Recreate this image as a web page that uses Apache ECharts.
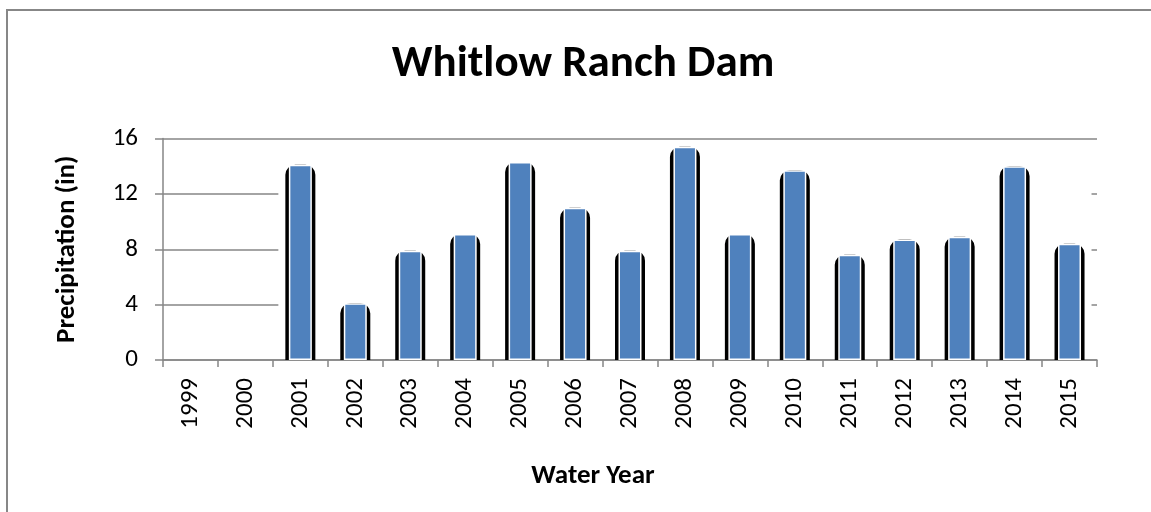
<!DOCTYPE html>
<html>
<head>
<meta charset="utf-8">
<script src="https://cdn.jsdelivr.net/npm/echarts@6/dist/echarts.min.js"></script>
<style>
  html, body { margin: 0; padding: 0; background: #fff; }
  #chart { width: 1151px; height: 512px; }
  #frame { position: absolute; left: 6px; top: 9px; width: 1200px; height: 600px;
           border-left: 2px solid #878787; border-top: 2px solid #878787; pointer-events: none; }
</style>
</head>
<body>
<div id="chart"></div>
<div id="frame"></div>
<script>
const years = ['1999','2000','2001','2002','2003','2004','2005','2006','2007','2008','2009','2010','2011','2012','2013','2014','2015'];
const precipitation = [0, 0, 14.1, 4.1, 7.9, 9.1, 14.3, 11.0, 7.9, 15.4, 9.1, 13.7, 7.6, 8.7, 8.9, 14.0, 8.4];
const yTicks = [0, 4, 8, 12, 16];

const FONT = 'Calibri, Carlito, Lato, sans-serif';
const GRAY = '#868686';
const TICK_STYLE = { fontFamily: FONT, fontSize: 25, color: '#000' };

// zero years draw no mark (no border either)
const barData = precipitation.map(v => v === 0 ? { value: v, itemStyle: { borderWidth: 0, opacity: 0 } } : v);

const chart = echarts.init(document.getElementById('chart'));
const option = {
  animation: false,
  backgroundColor: '#fff',
  textStyle: { fontFamily: FONT },
  title: [
    { text: 'Whitlow Ranch Dam', left: 578, top: 37, textAlign: 'center',
      textStyle: { fontFamily: FONT, fontWeight: 'bold', fontSize: 45, color: '#000' } },
    { text: 'Water Year', left: 588, top: 458, textAlign: 'center',
      textStyle: { fontFamily: FONT, fontWeight: 'bold', fontSize: 27, color: '#000' } }
  ],
  grid: { left: 163, right: 54, top: 138.5, bottom: 152, containLabel: false },
  xAxis: [
    {
      type: 'category', data: years,
      axisLine: { lineStyle: { color: GRAY, width: 1.5 } },
      axisTick: { show: true, length: 7, lineStyle: { color: GRAY, width: 1.5 } },
      axisLabel: {
        rotate: 90, margin: 18, fontFamily: FONT, fontSize: 25, color: '#000',
        formatter: v => '{t|' + v + '}', rich: { t: TICK_STYLE }
      }
    },
    {
      type: 'category', data: years, position: 'bottom',
      axisLine: { show: false }, axisTick: { show: false }, axisLabel: { show: false }
    }
  ],
  yAxis: {
    type: 'value', min: yTicks[0], max: yTicks[yTicks.length - 1], interval: 4,
    name: 'Precipitation (in)', nameLocation: 'middle', nameGap: 82, nameRotate: 90,
    nameTextStyle: { fontFamily: FONT, fontWeight: 'bold', fontSize: 27, color: '#000' },
    axisLine: { show: true, lineStyle: { color: GRAY, width: 1.5 } },
    axisTick: { show: true, length: 8, lineStyle: { color: GRAY, width: 1.5 } },
    axisLabel: {
      margin: 25, fontFamily: FONT, fontSize: 25, color: '#000',
      formatter: v => '{t|' + v + '}', rich: { t: TICK_STYLE }
    },
    splitLine: { show: true, lineStyle: { color: GRAY, width: 1.5 } }
  },
  series: [
    {
      type: 'bar', xAxisIndex: 1, data: barData, barWidth: 30, clip: true, z: 3,
      itemStyle: { color: '#000', borderColor: '#000', borderWidth: 8, borderRadius: [6, 6, 0, 0] },
      emphasis: { disabled: true }
    },
    {
      type: 'bar', xAxisIndex: 0, data: barData, barWidth: 23, clip: true, z: 4,
      itemStyle: { color: '#4F81BD', borderColor: '#fff', borderWidth: 1.5 },
      emphasis: { disabled: true }
    }
  ]
};
chart.setOption(option);

// white mask hiding the inner gridlines behind the bar block (as in the reference)
const nz = precipitation.map((v, i) => v > 0 ? i : -1).filter(i => i >= 0);
const xFirst = chart.convertToPixel({ xAxisIndex: 0 }, years[nz[0]]);
const xLast = chart.convertToPixel({ xAxisIndex: 0 }, years[nz[nz.length - 1]]);
const yTop = chart.convertToPixel({ yAxisIndex: 0 }, yTicks[yTicks.length - 1]);
const yBot = chart.convertToPixel({ yAxisIndex: 0 }, yTicks[0]);
chart.setOption({
  graphic: [{
    type: 'rect', z: 1, silent: true,
    shape: { x: xFirst - 22, y: yTop + 3, width: (xLast - xFirst) + 44, height: (yBot - yTop) - 6 },
    style: { fill: '#fff' }
  }]
});
</script>
</body>
</html>
